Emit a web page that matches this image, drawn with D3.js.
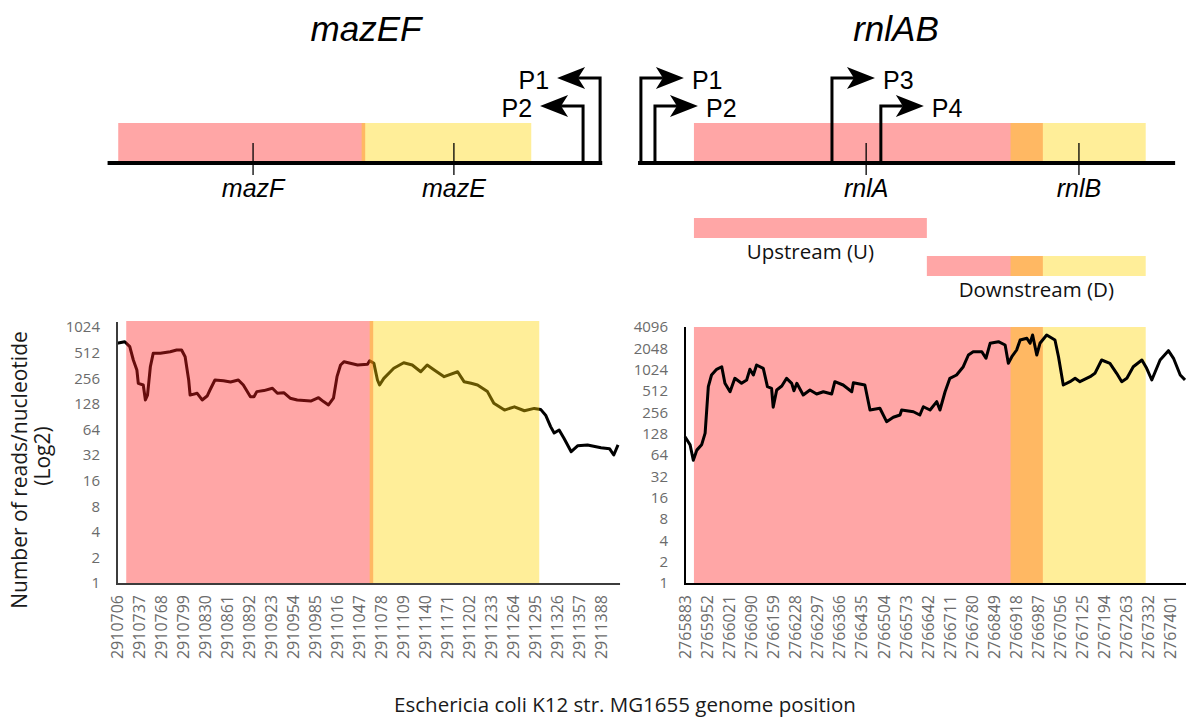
<!DOCTYPE html>
<html><head><meta charset="utf-8">
<script src="https://cdn.jsdelivr.net/npm/d3@7"></script>
<style>body{margin:0;background:#fff}</style>
</head><body><svg id="c" width="1186" height="718"></svg>
<script>
// ---------- DATA ----------
const leftPositions = [2910706,2910717,2910724,2910729,2910734,2910736,2910743,2910746,2910749,2910753,2910757,2910767,2910781,2910790,2910797,2910802,2910807,2910809,2910819,2910826,2910833,2910837,2910844,2910856,2910866,2910877,2910884,2910894,2910899,2910903,2910913,2910925,2910932,2910941,2910950,2910960,2910979,2910990,2910997,2911004,2911011,2911016,2911021,2911026,2911045,2911059,2911062,2911068,2911073,2911076,2911082,2911096,2911110,2911122,2911134,2911143,2911153,2911167,2911186,2911195,2911205,2911214,2911228,2911237,2911252,2911266,2911280,2911294,2911303,2911310,2911317,2911322,2911329,2911336,2911346,2911355,2911369,2911388,2911400,2911406,2911412];
const leftReads = [658,688,601,419,320,223,213,142,162,349,502,502,525,549,549,458,244,162,170,142,158,186,244,239,231,244,213,155,155,178,183,195,170,173,149,142,138,151,136,124,149,267,366,400,366,373,411,383,244,213,255,335,389,366,305,366,320,267,305,233,223,213,178,130,108,118,106,113,110,94,69,58,63,50,35,41,42,39,38,32,42];

const rightPositions = [2765883,2765899,2765909,2765920,2765935,2765946,2765956,2765966,2765982,2765998,2766008,2766024,2766039,2766060,2766076,2766086,2766097,2766107,2766128,2766141,2766154,2766159,2766170,2766186,2766201,2766217,2766224,2766233,2766253,2766274,2766295,2766316,2766342,2766352,2766378,2766405,2766410,2766446,2766462,2766493,2766514,2766535,2766556,2766561,2766598,2766618,2766629,2766650,2766671,2766681,2766697,2766712,2766733,2766754,2766770,2766785,2766812,2766825,2766838,2766864,2766885,2766895,2766906,2766921,2766932,2766953,2766963,2766971,2766984,2766994,2767015,2767041,2767052,2767067,2767088,2767104,2767119,2767151,2767166,2767187,2767213,2767234,2767250,2767266,2767286,2767313,2767328,2767344,2767370,2767396,2767412,2767433,2767448];
const rightReads = [116,89,54,75,89,130,589,861,1036,1127,657,500,773,657,732,1036,861,1192,1070,589,559,302,529,602,773,657,517,657,450,529,464,500,464,693,622,500,671,622,276,292,189,218,235,276,261,235,307,276,362,276,500,773,861,1127,1650,1836,1836,1482,2412,2541,2282,1259,1561,1940,2685,2837,2412,3158,1650,2412,3158,2685,1561,622,693,773,693,816,909,1402,1259,909,693,773,1127,1402,1070,732,1402,1897,1482,861,732];

const leftTicks = [2910706,2910737,2910768,2910799,2910830,2910861,2910892,2910923,2910954,2910985,2911016,2911047,2911078,2911109,2911140,2911171,2911202,2911233,2911264,2911295,2911326,2911357,2911388];
const rightTicks = [2765883,2765952,2766021,2766090,2766159,2766228,2766297,2766366,2766435,2766504,2766573,2766642,2766711,2766780,2766849,2766918,2766987,2767056,2767125,2767194,2767263,2767332,2767401];
const leftYTicks = [1,2,4,8,16,32,64,128,256,512,1024];
const rightYTicks = [1,2,4,8,16,32,64,128,256,512,1024,2048,4096];

// gene regions [start, end]
const leftGeneNames = ["mazF","mazE"];
const leftGeneRanges = [[2910719,2911067],[2911062,2911301]];
const leftGeneMarks = [2910909,2911192];
const rightGeneNames = ["rnlA","rnlB"];
const rightGeneRanges = [[2765911,2767003],[2766902,2767325]];
const rightGeneMarks = [2766450,2767116];
const geneColors = ["#ff2121","#ffd400"];
const leftBaseline = [2910704,2911401];
const rightBaseline = [2765736,2767417];
const leftPromoters = ["P1","P2"];
const leftPromoterPos = [2911398,2911374];
const rightPromoters = ["P1","P2","P3","P4"];
const rightPromoterPos = [2765745,2765789,2766343,2766496];
const fragmentNames = ["Upstream (U)","Downstream (D)"];
const fragmentRanges = [[2765911,2766640],[2766640,2767325]];

// ---------- DRAW ----------
const svg = d3.select("#c");
const FONT = "'Open Sans', sans-serif";
const TITLE_FONT = "'Liberation Sans', Arial, sans-serif";
const yBottom = 583, yTop = 327;

const xL = d3.scaleLinear().domain([leftTicks[0], leftTicks[leftTicks.length-1]]).range([117, 601]);
const xR = d3.scaleLinear().domain([rightTicks[0], rightTicks[rightTicks.length-1]]).range([685, 1170]);
const xLd = xL.copy().range([109, 593]);
const yL = d3.scaleLog().base(2).domain([1,1024]).range([yBottom, yTop]);
const yR = d3.scaleLog().base(2).domain([1,4096]).range([yBottom, yTop]);

function regions(g, x, ranges, yTopR, yBot) {
  g.selectAll(null).data(ranges).enter().append("rect")
    .attr("x", d => x(d[0])).attr("width", d => x(d[1]) - x(d[0]))
    .attr("y", yTopR).attr("height", yBot - yTopR)
    .attr("fill", (d,i) => geneColors[i]).attr("fill-opacity", 0.4);
}
function dataLine(g, x, y, pos, vals) {
  const line = d3.line().x(d => x(d[0])).y(d => y(d[1]));
  g.append("path").datum(pos.map((p,i)=>[p, vals[i]]))
    .attr("d", line).attr("fill","none").attr("stroke","#000")
    .attr("stroke-width", 3).attr("stroke-linejoin","round");
}
function axes(g, x, y, ticks, yticks, color, xEnd, yAxisTop) {
  const xa = d3.axisBottom(x).tickValues(ticks).tickSize(0).tickFormat(d3.format("d"));
  const gx = g.append("g").attr("transform", `translate(0,${yBottom+1})`).call(xa);
  gx.select(".domain").remove();
  gx.selectAll("text").attr("transform","rotate(-90)").attr("x",-11).attr("y",0)
    .attr("dy","0.35em").style("text-anchor","end")
    .attr("font-family", FONT).attr("font-size", 16).attr("fill","#6b6b6b");
  const ya = d3.axisLeft(y).tickValues(yticks).tickSize(0).tickPadding(17).tickFormat(d3.format("d"));
  const gy = g.append("g").attr("transform", `translate(${x.range()[0]},0)`).call(ya);
  gy.select(".domain").remove();
  gy.selectAll("text").attr("font-family", FONT).attr("font-size", 15).attr("fill","#6b6b6b");
  g.append("line").attr("x1", x.range()[0]).attr("x2", x.range()[0])
    .attr("y1", yBottom+1).attr("y2", yAxisTop).attr("stroke", color).attr("stroke-width", 2);
  g.append("line").attr("x1", x.range()[0]-1).attr("x2", xEnd)
    .attr("y1", yBottom+1).attr("y2", yBottom+1).attr("stroke", color).attr("stroke-width", 2);
}

// Left chart: line under translucent regions
const gl = svg.append("g");
dataLine(gl, xL, yL, leftPositions, leftReads);
regions(gl, xL, leftGeneRanges, 321, yBottom);
axes(gl, xL, yL, leftTicks, leftYTicks, "#3c3c3c", xL(leftPositions[leftPositions.length-1])+2, yL(1024)-5);

// Right chart: regions under line
const gr = svg.append("g");
regions(gr, xR, rightGeneRanges, yTop, yBottom);
dataLine(gr, xR, yR, rightPositions, rightReads);
axes(gr, xR, yR, rightTicks, rightYTicks, "#000", 1186, yR(4096));

// Axis titles
svg.append("text").attr("transform","translate(27,470) rotate(-90)").attr("text-anchor","middle")
  .attr("font-family", FONT).attr("font-size", 21).attr("fill","#1a1a1a").text("Number of reads/nucleotide");
svg.append("text").attr("transform","translate(50,456) rotate(-90)").attr("text-anchor","middle")
  .attr("font-family", FONT).attr("font-size", 21).attr("fill","#1a1a1a").text("(Log2)");
svg.append("text").attr("x", 625).attr("y", 712).attr("text-anchor","middle")
  .attr("font-family", FONT).attr("font-size", 20.5).attr("fill","#1a1a1a")
  .text("Eschericia coli K12 str. MG1655 genome position");

// ---------- Gene diagrams ----------
const baseY = 163, boxTop = 123;
function diagram(x, baseline, ranges, names, marks, title, titleX) {
  const g = svg.append("g");
  regions(g, x, ranges, boxTop, baseY);
  g.append("line").attr("x1", x(baseline[0])).attr("x2", x(baseline[1]))
    .attr("y1", baseY).attr("y2", baseY).attr("stroke","#000").attr("stroke-width",4);
  g.selectAll(null).data(marks).enter().append("line")
    .attr("x1", d=>x(d)).attr("x2", d=>x(d)).attr("y1", 143).attr("y2", 175)
    .attr("stroke","#000").attr("stroke-width",1.3);
  g.selectAll(null).data(marks).enter().append("text")
    .attr("x", d=>x(d)).attr("y", 197).attr("text-anchor","middle")
    .attr("font-family", TITLE_FONT).attr("font-style","italic").attr("font-size", 25)
    .text((d,i)=>names[i]);
  g.append("text").attr("x", titleX).attr("y", 41).attr("text-anchor","middle")
    .attr("font-family", TITLE_FONT).attr("font-style","italic").attr("font-size", 35).text(title);
  return g;
}
function promoter(g, x0, yTopA, dir, label) {
  const len = 43, head = 28, hw = 11, notch = 7;
  const tip = x0 + dir*len;
  g.append("path").attr("d", `M${x0},${baseY+2}V${yTopA}H${tip - dir*(head-notch)}`)
    .attr("fill","none").attr("stroke","#000").attr("stroke-width",3);
  g.append("path").attr("d",
    `M${tip},${yTopA}L${tip-dir*head},${yTopA-hw}L${tip-dir*(head-notch)},${yTopA}L${tip-dir*head},${yTopA+hw}Z`)
    .attr("fill","#000");
  g.append("text").attr("x", tip + dir*8).attr("y", yTopA + 3 + 8)
    .attr("text-anchor", dir < 0 ? "end" : "start")
    .attr("font-family", TITLE_FONT).attr("font-size", 25).text(label);
}
const dl = diagram(xLd, leftBaseline, leftGeneRanges, leftGeneNames, leftGeneMarks, "mazEF", 366);
const arrowYs = [78, 106, 78, 106];
leftPromoters.forEach((p,i)=> promoter(dl, xLd(leftPromoterPos[i]), arrowYs[i], -1, p));
const dr = diagram(xR, rightBaseline, rightGeneRanges, rightGeneNames, rightGeneMarks, "rnlAB", 896);
rightPromoters.forEach((p,i)=> promoter(dr, xR(rightPromoterPos[i]), arrowYs[i], 1, p));

// Fragments
const fragY = [218, 256];
svg.append("rect").attr("x", xR(fragmentRanges[0][0])).attr("width", xR(fragmentRanges[0][1]) - xR(fragmentRanges[0][0]))
  .attr("y", fragY[0]).attr("height", 20).attr("fill", geneColors[0]).attr("fill-opacity", 0.4);
rightGeneRanges.forEach((r,i)=>{
  const s = Math.max(r[0], fragmentRanges[1][0]), e = Math.min(r[1], fragmentRanges[1][1]);
  svg.append("rect").attr("x", xR(s)).attr("width", xR(e)-xR(s)).attr("y", fragY[1]).attr("height", 20)
    .attr("fill", geneColors[i]).attr("fill-opacity", 0.4);
});
fragmentNames.forEach((n,i)=>{
  svg.append("text").attr("x", (xR(fragmentRanges[i][0]) + xR(fragmentRanges[i][1]))/2)
    .attr("y", fragY[i] + 41).attr("text-anchor","middle")
    .attr("font-family", FONT).attr("font-size", 20.5).attr("fill","#111").text(n);
});
</script></body></html>
